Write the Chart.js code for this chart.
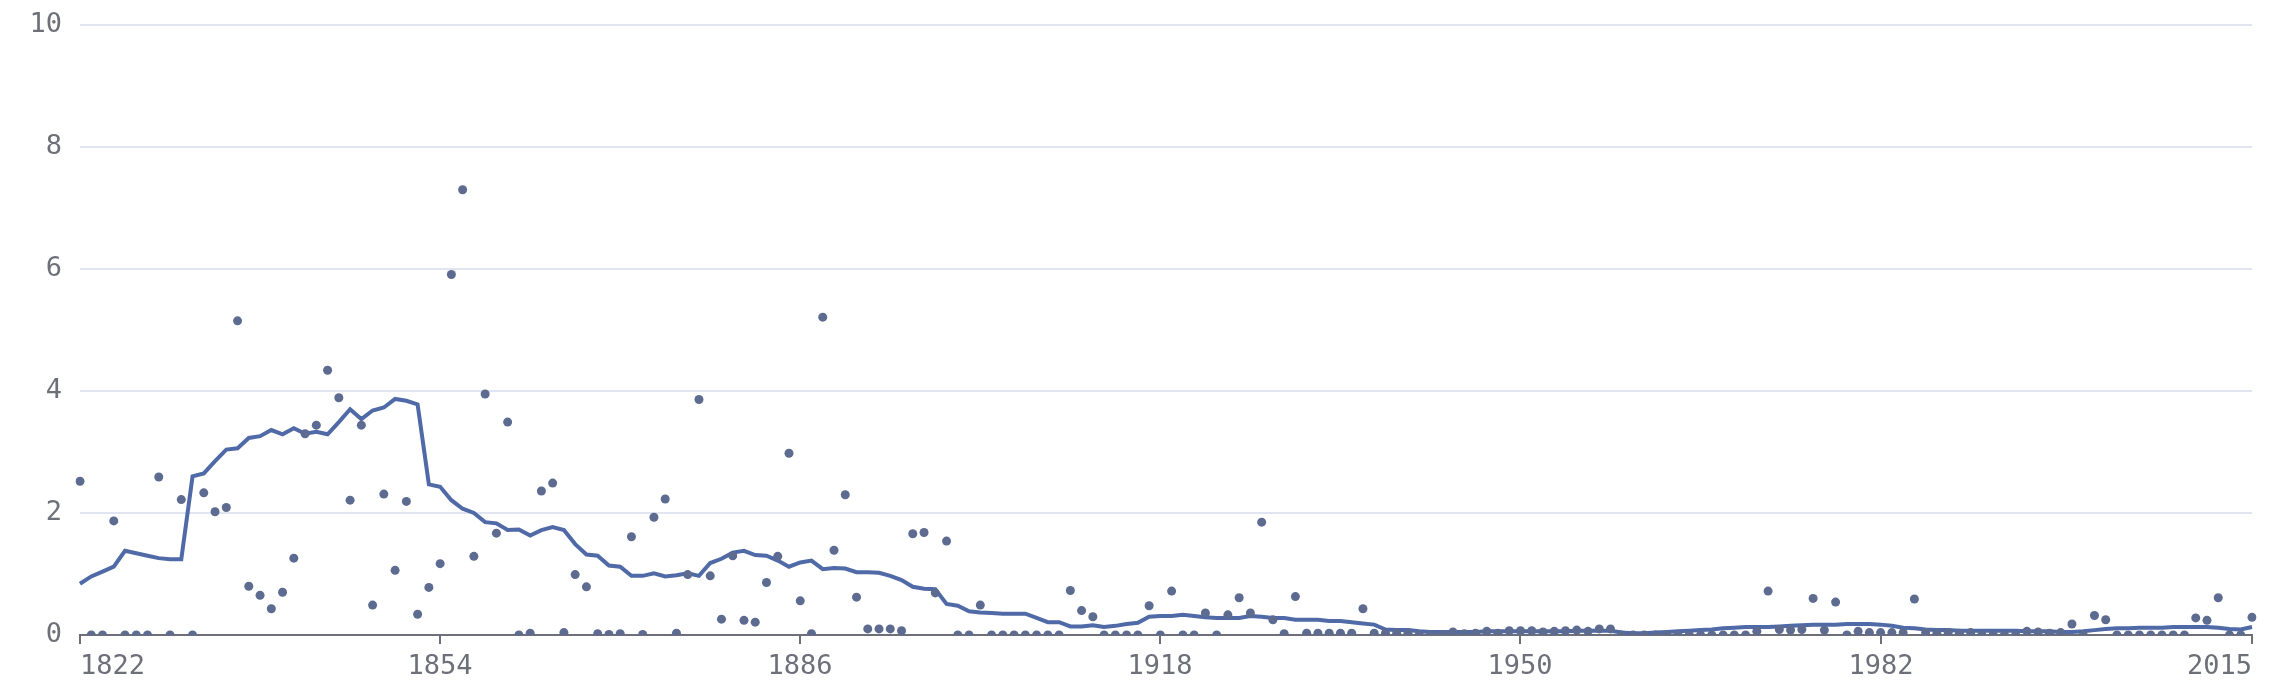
<!DOCTYPE html>
<html>
<head>
<meta charset="utf-8">
<script src="https://cdn.jsdelivr.net/npm/chart.js@4.4.1/dist/chart.umd.min.js"></script>
<style>
  html, body { margin: 0; padding: 0; background: #fff; }
  #wrap { width: 2284px; height: 688px; position: relative; }
</style>
</head>
<body>
<div id="wrap"><canvas id="chart"></canvas></div>
<script>
// categories: one per year
const firstYear = 1822;
const lastYear = 2015;
const years = Array.from({length: lastYear - firstYear + 1}, (_, i) => String(firstYear + i));

// years that get a tick + label on the x axis
const labelledYears = ['1822', '1854', '1886', '1918', '1950', '1982', '2015'];

const yTicks = [0, 2, 4, 6, 8, 10];

// yearly values (dots)
const yearlyValues = [
    2.52, 0, 0, 1.87, 0, 0, 0, 2.59, 0, 2.22,
    0, 2.33, 2.02, 2.09, 5.15, 0.80, 0.65, 0.43, 0.70, 1.26,
    3.30, 3.44, 4.34, 3.89, 2.21, 3.44, 0.49, 2.31, 1.06, 2.19,
    0.34, 0.78, 1.17, 5.91, 7.30, 1.29, 3.95, 1.67, 3.49, 0,
    0.03, 2.36, 2.49, 0.04, 0.99, 0.79, 0.02, 0.01, 0.02, 1.61,
    0.01, 1.93, 2.23, 0.03, 0.99, 3.86, 0.97, 0.26, 1.30, 0.24,
    0.21, 0.86, 1.29, 2.98, 0.56, 0.02, 5.21, 1.39, 2.30, 0.62,
    0.10, 0.10, 0.10, 0.07, 1.66, 1.68, 0.69, 1.54, 0, 0,
    0.49, 0, 0, 0, 0, 0, 0, 0, 0.73, 0.40,
    0.30, 0, 0, 0, 0, 0.48, 0, 0.72, 0, 0,
    0.36, 0, 0.33, 0.61, 0.36, 1.85, 0.25, 0.02, 0.63, 0.03,
    0.03, 0.03, 0.03, 0.03, 0.43, 0.03, 0.03, 0.03, 0.03, 0,
    0, 0.01, 0.05, 0.02, 0.03, 0.06, 0.03, 0.07, 0.07, 0.07,
    0.05, 0.06, 0.07, 0.08, 0.06, 0.10, 0.10, 0, 0, 0,
    0, 0, 0, 0, 0, 0, 0, 0, 0, 0.06,
    0.72, 0.09, 0.08, 0.09, 0.60, 0.08, 0.54, 0, 0.06, 0.04,
    0.04, 0.04, 0.04, 0.59, 0.04, 0.03, 0.04, 0.03, 0.04, 0,
    0, 0, 0, 0.06, 0.05, 0.03, 0.04, 0.18, 0, 0.32,
    0.25, 0, 0, 0, 0, 0, 0, 0, 0.28, 0.24,
    0.61, 0, 0, 0.29
];

// smoothed trend (line)
const trendValues = [
    0.84, 0.96, 1.04, 1.12, 1.38, 1.34, 1.30, 1.26, 1.24, 1.24,
    2.60, 2.65, 2.85, 3.04, 3.06, 3.23, 3.26, 3.36, 3.29, 3.39,
    3.30, 3.33, 3.29, 3.49, 3.70, 3.54, 3.68, 3.73, 3.87, 3.84,
    3.78, 2.47, 2.43, 2.21, 2.07, 2.00, 1.85, 1.83, 1.72, 1.73,
    1.63, 1.72, 1.77, 1.72, 1.49, 1.32, 1.30, 1.14, 1.12, 0.97,
    0.97, 1.01, 0.96, 0.98, 1.01, 0.97, 1.18, 1.25, 1.35, 1.38,
    1.31, 1.30, 1.22, 1.12, 1.19, 1.22, 1.08, 1.10, 1.09, 1.03,
    1.03, 1.02, 0.97, 0.90, 0.79, 0.76, 0.75, 0.51, 0.48, 0.39,
    0.37, 0.36, 0.35, 0.35, 0.35, 0.28, 0.21, 0.21, 0.14, 0.14,
    0.16, 0.13, 0.15, 0.18, 0.20, 0.30, 0.31, 0.31, 0.33, 0.31,
    0.29, 0.28, 0.28, 0.28, 0.31, 0.30, 0.28, 0.28, 0.25, 0.25,
    0.25, 0.23, 0.23, 0.21, 0.19, 0.17, 0.09, 0.08, 0.08, 0.06,
    0.05, 0.05, 0.05, 0.05, 0.05, 0.06, 0.06, 0.06, 0.06, 0.06,
    0.06, 0.06, 0.06, 0.07, 0.07, 0.07, 0.07, 0.04, 0.03, 0.03,
    0.04, 0.05, 0.06, 0.07, 0.08, 0.09, 0.11, 0.12, 0.13, 0.13,
    0.13, 0.14, 0.15, 0.16, 0.17, 0.17, 0.17, 0.18, 0.18, 0.18,
    0.17, 0.15, 0.12, 0.11, 0.09, 0.08, 0.08, 0.07, 0.07, 0.07,
    0.07, 0.07, 0.07, 0.06, 0.06, 0.06, 0.05, 0.05, 0.06, 0.08,
    0.10, 0.11, 0.11, 0.12, 0.12, 0.12, 0.13, 0.13, 0.13, 0.13,
    0.12, 0.10, 0.09, 0.13
];

const axisColor = '#6e7079';
const gridColor = '#e0e6f1';
const font = '"DejaVu Sans Mono", monospace';

// x tick marks + labels (first label left-aligned, last right-aligned)
const xLabels = {
    id: 'xLabels',
    afterDraw(chart) {
        const { ctx, chartArea } = chart;
        const x = chart.scales.x;
        ctx.save();
        ctx.strokeStyle = axisColor;
        ctx.fillStyle = axisColor;
        ctx.lineWidth = 2;
        ctx.font = '27px ' + font;
        ctx.textBaseline = 'middle';
        labelledYears.forEach((yr, k) => {
            const px = Math.round(x.getPixelForValue(years.indexOf(yr)));
            ctx.beginPath();
            ctx.moveTo(px, chartArea.bottom);
            ctx.lineTo(px, chartArea.bottom + 9);
            ctx.stroke();
            ctx.textAlign = k === 0 ? 'left' : (k === labelledYears.length - 1 ? 'right' : 'center');
            ctx.fillText(yr, px, 667);
        });
        ctx.restore();
    }
};

new Chart(document.getElementById('chart'), {
    type: 'line',
    data: {
        labels: years,
        datasets: [
            {
                label: 'yearly',
                data: yearlyValues,
                showLine: false,
                pointRadius: 4.5,
                pointBackgroundColor: '#5c6b8f',
                pointBorderWidth: 0,
                borderColor: '#5c6b8f',
                order: 0
            },
            {
                label: 'trend',
                data: trendValues,
                borderColor: '#4f6aa6',
                borderWidth: 4,
                pointRadius: 0,
                fill: false,
                tension: 0,
                order: 1
            }
        ]
    },
    options: {
        responsive: true,
        maintainAspectRatio: false,
        animation: false,
        layout: { padding: { top: 25, right: 32, bottom: 0, left: 0 } },
        plugins: { legend: { display: false }, tooltip: { enabled: false } },
        scales: {
            x: {
                type: 'category',
                offset: false,
                grid: { display: false },
                border: { display: true, color: axisColor, width: 2 },
                ticks: { display: false },
                afterFit: s => { s.height = 53; s.paddingLeft = 0; s.paddingRight = 0; }
            },
            y: {
                min: 0,
                max: 10,
                afterBuildTicks: s => { s.ticks = yTicks.map(v => ({ value: v })); },
                grid: { color: gridColor, lineWidth: 2, drawTicks: false },
                border: { display: false },
                ticks: { color: axisColor, font: { family: font, size: 27 }, padding: 18 },
                afterFit: s => { s.width = 80; s.paddingTop = 0; s.paddingBottom = 0; }
            }
        }
    },
    plugins: [xLabels]
});
</script>
</body>
</html>
